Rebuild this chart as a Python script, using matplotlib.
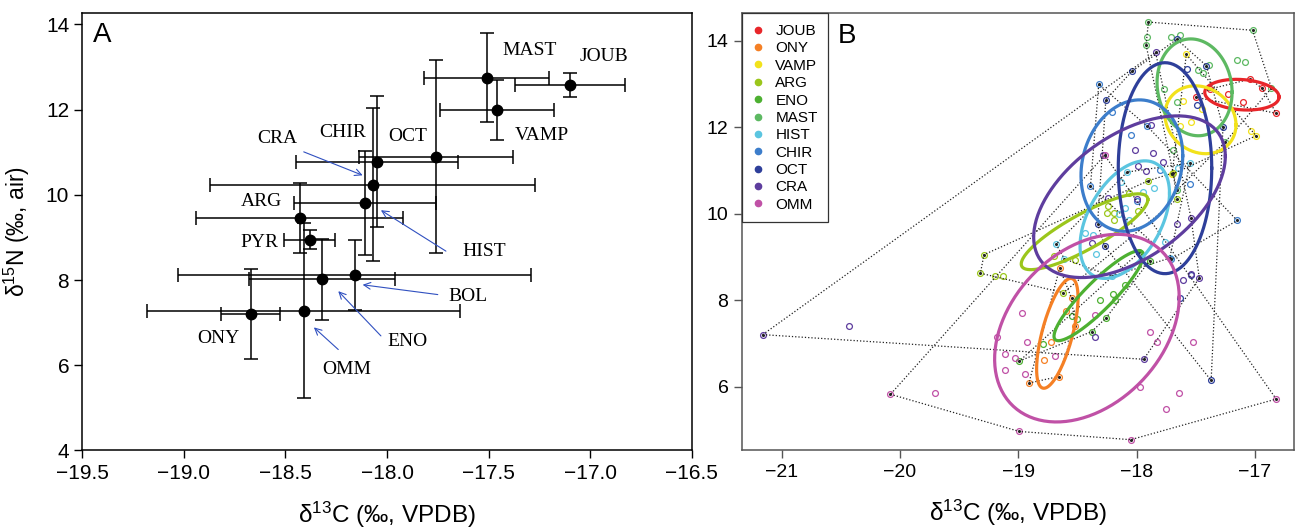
import numpy as np
import matplotlib.pyplot as plt
from matplotlib.lines import Line2D
from matplotlib.ticker import FuncFormatter

plt.rcParams['font.family'] = ['Liberation Sans', 'DejaVu Sans']
plt.rcParams['mathtext.fontset'] = 'custom'
plt.rcParams['mathtext.rm'] = 'Liberation Sans'
plt.rcParams['mathtext.it'] = 'Liberation Sans:italic'

# ---- panel A: means and SD ----
a_names = ['MAST', 'JOUB', 'VAMP', 'OCT', 'CHIR', 'CRA', 'HIST', 'ARG', 'PYR', 'BOL', 'ENO', 'OMM', 'ONY']
a_c13 = [-17.51, -17.10, -17.46, -17.76, -18.05, -18.07, -18.11, -18.43, -18.38, -18.16, -18.32, -18.41, -18.67]
a_n15 = [12.75, 12.58, 12.00, 10.90, 10.78, 10.24, 9.82, 9.45, 8.95, 8.12, 8.02, 7.28, 7.20]
a_c13_sd = [0.31, 0.27, 0.28, 0.38, 0.40, 0.80, 0.35, 0.51, 0.125, 0.87, 0.36, 0.77, 0.145]
a_n15_sd = [1.05, 0.29, 0.70, 2.26, 1.54, 1.80, 1.22, 0.82, 0.23, 0.83, 0.95, 2.05, 1.06]

# label positions (centre of text)
lab_x = [-17.30, -16.93, -17.24, -17.90, -18.22, -18.54, -17.52, -18.62, -18.63, -17.60, -17.90, -18.20, -18.83]
lab_y = [13.39, 13.26, 11.40, 11.36, 11.47, 11.32, 8.68, 9.84, 8.88, 7.62, 6.57, 5.89, 6.64]

# arrows: tail near label, head near point
arrow_names = ['CRA', 'HIST', 'BOL', 'ENO', 'OMM']
arrow_tail = [(-18.41, 11.01), (-17.71, 8.68), (-17.75, 7.66), (-18.03, 6.69), (-18.24, 6.37)]
arrow_head = [(-18.12, 10.46), (-18.03, 9.64), (-18.12, 7.89), (-18.24, 7.74), (-18.36, 6.89)]

# ---- panel B: individual samples ----
groups = ['JOUB', 'ONY', 'VAMP', 'ARG', 'ENO', 'MAST', 'HIST', 'CHIR', 'OCT', 'CRA', 'OMM']
colors = ['#E8262A', '#F58025', '#F2E21B', '#9BC61B', '#4DB031', '#5DB962',
          '#5BC5E0', '#3C7DCB', '#2E3F9A', '#5E3D9E', '#C051A6']

pts = {
    'JOUB': [(-17.04, 13.11), (-16.94, 12.90), (-16.82, 12.32), (-17.23, 12.76), (-17.50, 12.69),
             (-17.38, 12.88), (-17.10, 12.58)],
    'ONY': [(-18.91, 6.08), (-18.66, 6.23), (-18.60, 7.75), (-18.52, 7.41), (-18.65, 8.74),
            (-18.55, 8.04), (-18.72, 7.02), (-18.78, 6.61)],
    'VAMP': [(-17.58, 13.68), (-17.61, 12.60), (-17.54, 12.12), (-17.63, 12.02), (-17.03, 11.91),
             (-16.99, 11.80), (-17.70, 10.91), (-17.45, 12.42)],
    'ARG': [(-19.29, 9.05), (-19.32, 8.62), (-19.20, 8.55), (-19.13, 8.55), (-18.62, 8.17),
            (-17.90, 10.76), (-18.06, 10.48), (-18.24, 10.18), (-18.25, 10.01), (-18.19, 10.01),
            (-18.19, 9.85), (-17.99, 10.07), (-17.66, 10.33), (-17.69, 10.94), (-18.52, 8.92),
            (-18.70, 9.01)],
    'ENO': [(-18.20, 8.14), (-18.18, 8.01), (-18.31, 7.99), (-18.26, 7.58), (-18.50, 7.55),
            (-18.79, 6.99), (-18.99, 6.59), (-17.98, 9.10), (-17.89, 8.91), (-18.38, 7.27),
            (-18.10, 8.35), (-18.55, 7.63)],
    'MAST': [(-17.90, 14.43), (-17.02, 14.24), (-17.91, 14.08), (-17.92, 13.90), (-17.71, 14.08),
             (-17.63, 14.12), (-17.15, 13.55), (-17.08, 13.50), (-17.48, 13.32), (-17.39, 13.44),
             (-17.44, 13.25), (-17.77, 12.88), (-17.66, 12.57), (-16.86, 12.90), (-17.69, 11.46),
             (-17.25, 11.66), (-17.66, 10.54)],
    'HIST': [(-18.08, 10.96), (-18.13, 10.74), (-18.15, 9.98), (-18.10, 10.13), (-18.06, 9.85),
             (-18.37, 9.51), (-18.34, 9.07), (-18.61, 8.95), (-18.21, 8.55), (-17.76, 9.35),
             (-17.72, 8.97), (-17.65, 11.05), (-17.55, 11.17), (-18.68, 9.29), (-18.44, 9.55),
             (-17.95, 10.49), (-17.85, 10.59)],
    'CHIR': [(-18.32, 12.99), (-18.21, 12.34), (-18.05, 11.82), (-17.91, 12.02), (-18.39, 10.63),
             (-17.15, 9.84), (-17.71, 8.94), (-18.00, 10.28), (-17.80, 11.00), (-17.55, 10.69)],
    'OCT': [(-18.04, 13.29), (-18.26, 12.63), (-17.41, 13.42), (-17.57, 13.35), (-17.49, 12.50),
            (-17.27, 12.00), (-17.66, 14.03), (-18.27, 9.24), (-18.33, 9.76), (-17.63, 8.04),
            (-17.37, 6.14), (-17.54, 8.59)],
    'CRA': [(-21.16, 7.20), (-20.43, 7.39), (-17.84, 13.73), (-18.28, 11.36), (-18.01, 11.46),
            (-17.86, 11.40), (-17.78, 11.20), (-17.92, 10.98), (-17.99, 11.09), (-18.24, 10.35),
            (-18.00, 10.33), (-17.66, 9.76), (-17.54, 9.90), (-17.54, 8.61), (-17.47, 8.51),
            (-17.61, 8.47), (-18.38, 9.31), (-17.94, 6.63), (-18.35, 7.14), (-17.88, 12.04)],
    'OMM': [(-20.08, 5.82), (-19.70, 5.86), (-18.99, 4.96), (-18.05, 4.77), (-16.82, 5.71),
            (-17.64, 5.86), (-17.75, 5.48), (-17.97, 6.00), (-17.52, 7.03), (-17.83, 7.02),
            (-17.89, 7.27), (-18.97, 7.71), (-19.18, 7.14), (-18.93, 7.03), (-19.11, 6.75),
            (-19.03, 6.66), (-19.11, 6.38), (-18.94, 6.30), (-18.69, 6.71), (-18.35, 7.66),
            (-18.27, 11.35)],
}

# standard ellipses: centre, SD on each axis, correlation
ell_cx = [-17.11, -18.67, -17.46, -18.44, -18.32, -17.51, -18.10, -18.04, -17.76, -18.06, -18.42]
ell_cy = [12.75, 7.23, 12.17, 9.58, 8.10, 12.92, 9.86, 11.11, 11.05, 10.39, 7.35]
ell_sx = [0.314, 0.175, 0.30, 0.535, 0.378, 0.317, 0.378, 0.43, 0.395, 0.81, 0.78]
ell_sy = [0.355, 1.27, 0.785, 0.877, 1.04, 1.12, 1.36, 1.52, 2.44, 1.87, 2.17]
ell_rho = [-0.15, 0.65, -0.15, 0.85, 0.90, -0.10, 0.45, 0.15, 0.0, 0.50, 0.33]


def convex_hull(p):
    p = sorted(set(p))
    if len(p) < 3:
        return p

    def cross(o, a, b):
        return (a[0] - o[0]) * (b[1] - o[1]) - (a[1] - o[1]) * (b[0] - o[0])
    lower, upper = [], []
    for q in p:
        while len(lower) >= 2 and cross(lower[-2], lower[-1], q) <= 0:
            lower.pop()
        lower.append(q)
    for q in reversed(p):
        while len(upper) >= 2 and cross(upper[-2], upper[-1], q) <= 0:
            upper.pop()
        upper.append(q)
    return lower[:-1] + upper[:-1]


def fmt_minus(v, pos, nd=1):
    return f'{v:.{nd}f}'.replace('-', '\u2212')


fig = plt.figure(figsize=(12.95, 5.32), dpi=100)
axA = fig.add_axes([0.0636, 0.1532, 0.4705, 0.8216])
axB = fig.add_axes([0.5727, 0.1532, 0.4265, 0.8216])

# ---------- A ----------
axA.errorbar(a_c13, a_n15, xerr=a_c13_sd, yerr=a_n15_sd, fmt='o', color='black',
             ms=7.5, capsize=5, elinewidth=1.1, capthick=1.1, zorder=3)
for n, lx, ly in zip(a_names, lab_x, lab_y):
    axA.text(lx, ly, n, family='Liberation Serif', fontsize=14, ha='center', va='center')
for t, h in zip(arrow_tail, arrow_head):
    axA.annotate('', xy=h, xytext=t,
                 arrowprops=dict(arrowstyle='->', color='#3050c0', lw=0.8,
                                 shrinkA=0, shrinkB=0, mutation_scale=12))
axA.set_xlim(-19.5, -16.5)
axA.set_ylim(4, 14.26)
axA.set_xticks(np.arange(-19.5, -16.4, 0.5))
axA.set_yticks([4, 6, 8, 10, 12, 14])
axA.xaxis.set_major_formatter(FuncFormatter(lambda v, p: fmt_minus(v, p, 1)))
axA.tick_params(labelsize=15, length=6, width=1)
axA.set_xlabel('δ$^{13}$C (‰, VPDB)', fontsize=17.5, labelpad=12)
axA.set_ylabel('δ$^{15}$N (‰, air)', fontsize=16.5, labelpad=10)
axA.text(0.017, 0.98, 'A', transform=axA.transAxes, fontsize=20, ha='left', va='top')
for s in axA.spines.values():
    s.set_linewidth(1.1)

# ---------- B ----------
for g, c in zip(groups, colors):
    p = pts[g]
    xs = [q[0] for q in p]
    ys = [q[1] for q in p]
    axB.plot(xs, ys, 'o', ms=4.2, mfc='none', mec=c, mew=0.9, zorder=2)
for g in groups:
    h = convex_hull(pts[g])
    h = h + [h[0]]
    axB.plot([q[0] for q in h], [q[1] for q in h], color='#222222', lw=0.9,
             ls=(0, (1, 1.6)), zorder=3)
    axB.plot([q[0] for q in h[:-1]], [q[1] for q in h[:-1]], 'o', color='#222222',
             ms=1.2, zorder=3)

t = np.linspace(0, 2 * np.pi, 200)
for i, c in enumerate(colors):
    sx, sy, r = ell_sx[i], ell_sy[i], ell_rho[i]
    cov = np.array([[sx * sx, r * sx * sy], [r * sx * sy, sy * sy]])
    L = np.linalg.cholesky(cov)
    e = L @ np.vstack([np.cos(t), np.sin(t)])
    axB.plot(ell_cx[i] + e[0], ell_cy[i] + e[1], color=c, lw=2.3, zorder=4)

axB.set_xlim(-21.338, -16.67)
axB.set_ylim(4.52, 14.63)
axB.set_xticks([-21, -20, -19, -18, -17])
axB.set_yticks([6, 8, 10, 12, 14])
axB.xaxis.set_major_formatter(FuncFormatter(lambda v, p: fmt_minus(v, p, 0)))
axB.tick_params(labelsize=14, length=6, width=1, color='#555555')
axB.set_xlabel('δ$^{13}$C (‰, VPDB)', fontsize=17.5, labelpad=12)
for s in axB.spines.values():
    s.set_linewidth(1.1)
    s.set_color('#555555')
axB.text(0.174, 0.977, 'B', transform=axB.transAxes, fontsize=20, ha='left', va='top')

handles = [Line2D([], [], ls='none', marker='o', ms=4.5, color=c) for c in colors]
leg = axB.legend(handles, groups, loc='upper left', borderaxespad=0, fontsize=11,
                 frameon=True, fancybox=False, edgecolor='#333333', framealpha=1,
                 handlelength=0.8, handletextpad=0.7, labelspacing=0.22, borderpad=0.7)
leg.get_frame().set_linewidth(0.9)

fig.savefig('out.png', dpi=100)
